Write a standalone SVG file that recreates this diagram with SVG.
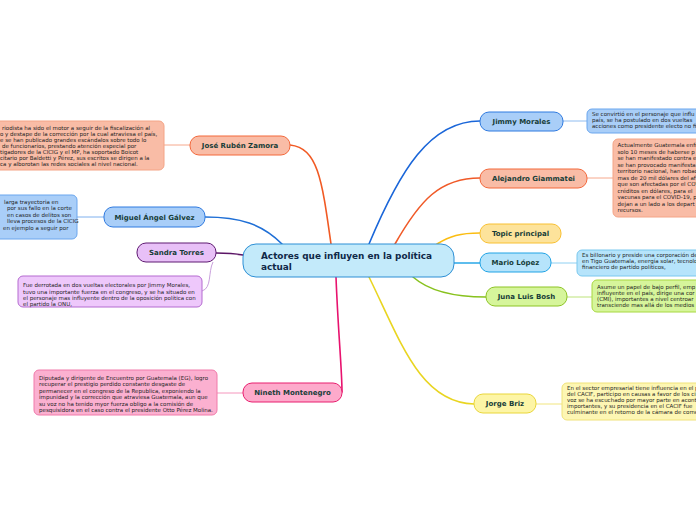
<svg xmlns="http://www.w3.org/2000/svg" width="696" height="520" viewBox="0 0 696 520">
<style>
.lbl{font-family:"DejaVu Sans",Verdana,sans-serif;font-weight:bold;font-size:7px;fill:#173d38;text-anchor:middle}
.main{font-family:"DejaVu Sans",Verdana,sans-serif;font-weight:bold;font-size:8.9px;fill:#0f2848}
.note{font-family:"DejaVu Sans",Verdana,sans-serif;font-size:5.5px;fill:#1e1e1e}
.c{fill:none;stroke-width:1.6;stroke-linecap:round}
.t{fill:none;stroke-width:1}
</style>
<rect width="696" height="520" fill="#ffffff"/>
<g id="connectors">
<path class="c" stroke="#f15a24" d="M331,244 C322,180 318,148 290,145"/>
<path class="c" stroke="#1f6fd6" d="M282,244 C262,224 240,217 205,217"/>
<path class="c" stroke="#5b1566" d="M243,255 C232,253 225,253 216,253"/>
<path class="c" stroke="#e8126e" d="M336,277 C338,330 342,370 342,392"/>
<path class="c" stroke="#1a66d9" d="M369,244 C400,170 430,121 480,121"/>
<path class="c" stroke="#f05a28" d="M395,244 C420,200 440,178 480,178"/>
<path class="c" stroke="#fbbd12" d="M437,244 C450,236 460,233 480,233"/>
<path class="c" stroke="#2aa8e8" d="M454,263 L480,263"/>
<path class="c" stroke="#88c21e" d="M413,277 C430,292 455,297 486,297"/>
<path class="c" stroke="#e9d521" d="M369,277 C400,340 420,403 474,404"/>
<path class="t" stroke="#f6a88c" d="M164,145 L190,145"/>
<path class="t" stroke="#7fb0ee" d="M77,217 L104,217"/>
<path class="t" stroke="#c9a0dc" d="M213,262 C208,272 212,288 202,291"/>
<path class="t" stroke="#f596bd" d="M217,393 L243,393"/>
<path class="t" stroke="#8fbcf0" d="M563,121 L588,121"/>
<path class="t" stroke="#f6a88c" d="M587,178 L613,178"/>
<path class="t" stroke="#8fd0f2" d="M551,263 L577,263"/>
<path class="t" stroke="#bde37a" d="M567,297 L592,297"/>
<path class="t" stroke="#f1e57e" d="M536,404 L562,404"/>
</g>
<g id="central">
<rect x="243" y="244" width="211" height="33" rx="13" fill="#c3eafa" stroke="#2d8fd5" stroke-width="1"/>
<text class="main" x="261" y="259.3">Actores que influyen en la política</text>
<text class="main" x="261" y="270">actual</text>
</g>
<g id="jose">
<rect x="190" y="136" width="100" height="19" rx="9" fill="#f9bca6" stroke="#f3683b"/>
<text class="lbl" x="240" y="148.3">José Rubén Zamora</text>
</g>
<g id="jose-note">
<rect x="-10" y="121" width="174" height="49" rx="5" fill="#f9bca6" stroke="#f4a486"/>
<text class="note" x="2" y="130.3">riodista ha sido el motor a seguir de la fiscalización al</text>
<text class="note" x="0" y="136.2">o y destape de la corrección por la cual atraviesa el país,</text>
<text class="note" x="0" y="142.1">e se han publicado grandes escándalos sobre todo lo</text>
<text class="note" x="2" y="148">de funcionaríos, prestando atención especial por</text>
<text class="note" x="0" y="153.9">tigadores de la CICIG y el MP, ha soportado Boicot</text>
<text class="note" x="0" y="159.8">citario por Baldetti y Pérez, sus escritos se dirigen a la</text>
<text class="note" x="0" y="165.7">ca y alborotan las redes sociales al nivel nacional.</text>
</g>
<g id="miguel">
<rect x="104" y="207" width="101" height="20" rx="9" fill="#a9cef8" stroke="#2f7ae0"/>
<text class="lbl" x="154.5" y="219.5">Miguel Ángel Gálvez</text>
</g>
<g id="miguel-note">
<rect x="-10" y="195" width="87" height="44" rx="5" fill="#a9cef8" stroke="#6aa6ee"/>
<text class="note" x="4" y="203.5">larga trayectoria en</text>
<text class="note" x="7" y="210">por sus fallo en la corte</text>
<text class="note" x="7" y="216.5">en casos de delitos son</text>
<text class="note" x="7" y="223">lleva procesos de la CICIG</text>
<text class="note" x="3" y="229.5">en ejemplo a seguir por</text>
</g>
<g id="sandra">
<rect x="137" y="243" width="79" height="19" rx="9" fill="#e8c0f7" stroke="#5f1a72"/>
<text class="lbl" x="176.5" y="255.3">Sandra Torres</text>
</g>
<g id="sandra-note">
<rect x="18" y="276" width="184" height="31" rx="5" fill="#eec8fb" stroke="#b46ad0"/>
<text class="note" x="23" y="287.3">Fue derrotada en dos vueltas electorales por Jimmy Morales,</text>
<text class="note" x="23" y="293.5">tuvo una importante fuerza en el congreso, y se ha situado en</text>
<text class="note" x="23" y="299.7">el personaje mas influyente dentro de la oposición política con</text>
<text class="note" x="23" y="305.9">el partido la ONU,</text>
</g>
<g id="nineth">
<rect x="243" y="383" width="99" height="19" rx="9" fill="#fdaacb" stroke="#e81e6e"/>
<text class="lbl" x="292.5" y="395.3">Nineth Montenegro</text>
</g>
<g id="nineth-note">
<rect x="34" y="370" width="183" height="45" rx="5" fill="#fbb0d0" stroke="#f07aaa"/>
<text class="note" x="39" y="379.7">Diputada y dirigente de Encuentro por Guatemala (EG), logro</text>
<text class="note" x="39" y="386.2">recuperar el prestigio perdido constante desgaste de</text>
<text class="note" x="39" y="392.6">permanecer en el congreso de la Republica, exponiendo la</text>
<text class="note" x="39" y="399.1">impunidad  y la corrección que atraviesa Guatemala, aun que</text>
<text class="note" x="39" y="405.5">su voz no ha tenido myor fuerza obligo a la comisión de</text>
<text class="note" x="39" y="412">pesquisidora en el caso contra el presidente Otto Pérez Molina.</text>
</g>
<g id="jimmy">
<rect x="480" y="112" width="83" height="19" rx="9" fill="#a9cef8" stroke="#2f7ae0"/>
<text class="lbl" x="521.5" y="124.3">Jimmy Morales</text>
</g>
<g id="jimmy-note">
<rect x="587" y="109" width="120" height="24" rx="5" fill="#a9cef8" stroke="#6aa6ee"/>
<text class="note" x="592" y="116.3">Se convirtió en el personaje que influ</text>
<text class="note" x="592" y="122.3">país, se ha postulado en dos vueltas</text>
<text class="note" x="592" y="128.3">acciones como presidente electo no fi</text>
</g>
<g id="alejandro">
<rect x="480" y="169" width="107" height="19" rx="9" fill="#f9bca6" stroke="#f3683b"/>
<text class="lbl" x="533.5" y="181.3">Alejandro Giammatei</text>
</g>
<g id="alejandro-note">
<rect x="613" y="139" width="95" height="78" rx="5" fill="#f9bca6" stroke="#f4a486"/>
<text class="note" x="617.5" y="147">Actualmente Guatemala enfr</text>
<text class="note" x="617.5" y="153.5">solo 10 meses de haberse p</text>
<text class="note" x="617.5" y="160">se han manifestado contra e</text>
<text class="note" x="617.5" y="166.5">se han provocado manifesta</text>
<text class="note" x="617.5" y="173">territorio nacional, han robad</text>
<text class="note" x="617.5" y="179.5">mas de 20 mil dólares del af</text>
<text class="note" x="617.5" y="186">que son afectadas por el COV</text>
<text class="note" x="617.5" y="192.5">créditos en dólares, para el</text>
<text class="note" x="617.5" y="199">vacunas para el COVID-19, p</text>
<text class="note" x="617.5" y="205.5">dejan a un lado a los depart</text>
<text class="note" x="617.5" y="212">recursos.</text>
</g>
<g id="topic">
<rect x="480" y="224" width="81" height="19" rx="9" fill="#fde39b" stroke="#f8c032"/>
<text class="lbl" x="520.5" y="236.3">Topic principal</text>
</g>
<g id="mario">
<rect x="480" y="253" width="71" height="19" rx="9" fill="#b6e4fb" stroke="#21a3e5"/>
<text class="lbl" x="515.5" y="265.3">Mario López</text>
</g>
<g id="mario-note">
<rect x="577" y="250" width="130" height="26" rx="5" fill="#b6e4fb" stroke="#7ac8ee"/>
<text class="note" x="582" y="257">Es billonario y preside una corporación de</text>
<text class="note" x="582" y="263">en Tigo Guatemala, energía solar, tecnolo</text>
<text class="note" x="582" y="269">financiero de partido políticos,</text>
</g>
<g id="juna">
<rect x="486" y="287" width="81" height="19" rx="9" fill="#d6f59b" stroke="#8dc425"/>
<text class="lbl" x="526.5" y="299.3">Juna Luis Bosh</text>
</g>
<g id="juna-note">
<rect x="592" y="280" width="115" height="32" rx="5" fill="#d6f59b" stroke="#a8d840"/>
<text class="note" x="597" y="289">Asume un papel de bajo perfil, emp</text>
<text class="note" x="597" y="295">influyente en el país, dirige una cor</text>
<text class="note" x="597" y="301">(CMI), importantes a nivel centroar</text>
<text class="note" x="597" y="307">transciende mas allá de los medios</text>
</g>
<g id="jorge">
<rect x="474" y="394" width="62" height="19" rx="9" fill="#fdf5a6" stroke="#e9d63a"/>
<text class="lbl" x="505" y="406.3">Jorge Briz</text>
</g>
<g id="jorge-note">
<rect x="562" y="383" width="146" height="37" rx="5" fill="#fdf6b3" stroke="#f0e27a"/>
<text class="note" x="567" y="390.3">En el sector empresarial tiene influencia en el p</text>
<text class="note" x="567" y="396.3">del CACIF, participo en causas a favor de los ci</text>
<text class="note" x="567" y="402.1">voz se ha escuchado por mayor parte en acont</text>
<text class="note" x="567" y="408">importantes, y su presidencia en el CACIF fue</text>
<text class="note" x="567" y="414">culminante en el retorno de la cámara de come</text>
</g>
</svg>
